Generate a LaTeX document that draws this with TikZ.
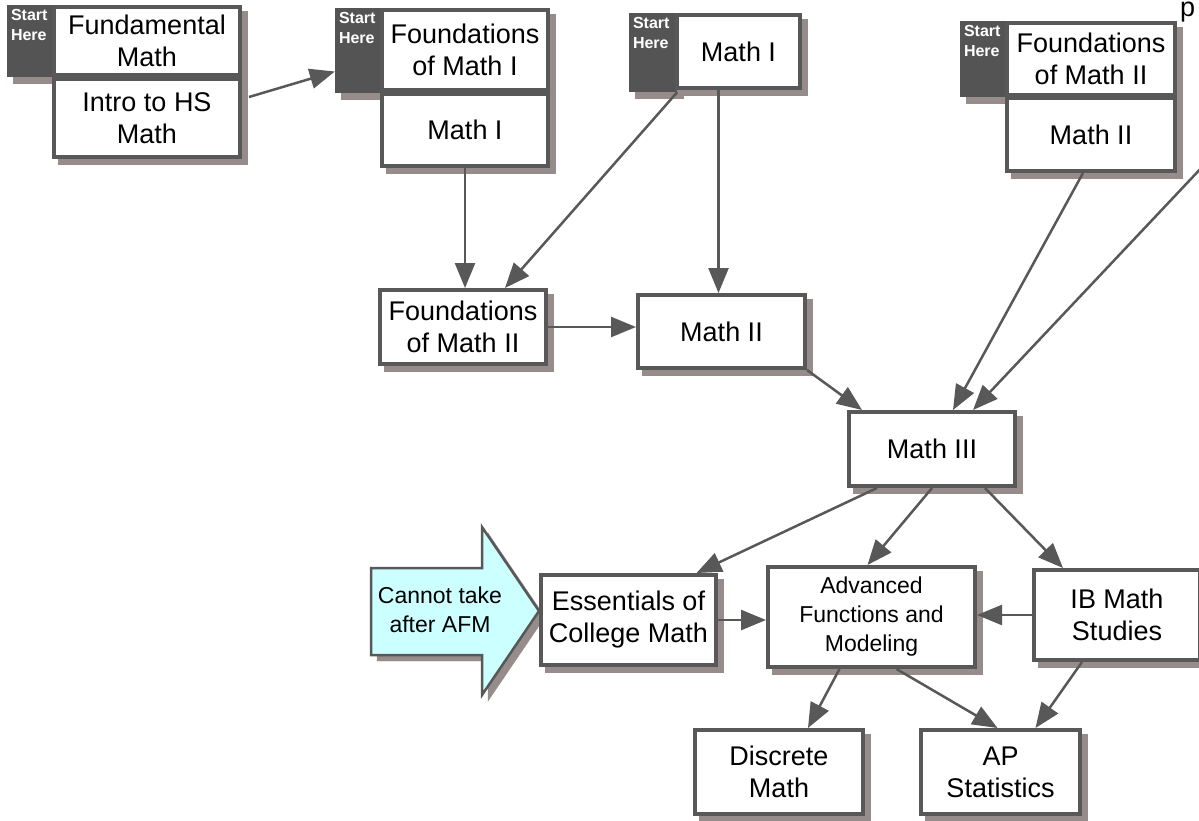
\documentclass[tikz,border=0pt]{standalone}
\usepackage{fontspec}
\setmainfont{Liberation Sans}
\usetikzlibrary{arrows.meta,shadows}

\definecolor{edgegray}{RGB}{88,88,88}
\definecolor{tabgray}{RGB}{84,84,84}
\definecolor{shadowgray}{RGB}{150,140,140}
\definecolor{notecyan}{RGB}{204,255,255}
\newcommand{\coursefont}{\fontsize{27}{32}\selectfont}
\newcommand{\smallcoursefont}{\fontsize{23}{29}\selectfont}
\newcommand{\startfont}{\fontsize{16}{20}\selectfont\bfseries}

\begin{document}
\begin{tikzpicture}[x=1pt,y=-1pt,
  shadowed/.style={drop shadow={shadow xshift=6pt,shadow yshift=-6pt,fill=shadowgray,draw=shadowgray,opacity=1}},
  course/.style={rectangle,draw=edgegray,line width=4pt,fill=white,align=center,inner sep=1pt,font=\coursefont,shadowed},
  starttab/.style={rectangle,fill=tabgray,inner sep=0pt,shadowed},
  startlabel/.style={anchor=north west,text=white,align=left,inner sep=4pt,font=\startfont},
  link/.style={draw=edgegray,line width=2.5pt,-{Triangle[length=25pt,width=20pt]}}]

        \useasboundingbox (0,0) rectangle (1199,820);

        % start here groups
        \node[starttab,minimum width=48pt,minimum height=72pt] (tabA) at (31,41) {};
        \node[startlabel] (hereA) at (tabA.north west) {Start\\Here};
        \node[course,minimum width=186pt,minimum height=68pt] (fundmath) at (147,41) {Fundamental\\Math};
        \node[course,minimum width=186pt,minimum height=78pt] (introhs) at (147,118) {Intro to HS\\Math};

        \node[starttab,minimum width=47pt,minimum height=85pt] (tabB) at (358.5,50.5) {};
        \node[startlabel] (hereB) at (tabB.north west) {Start\\Here};
        \node[course,minimum width=166pt,minimum height=80.5pt] (fmathoneA) at (465,50) {Foundations\\of Math I};
        \node[course,minimum width=166pt,minimum height=72pt] (mathoneA) at (465,130) {Math I};

        \node[starttab,minimum width=48pt,minimum height=79pt] (tabC) at (653,52.5) {};
        \node[startlabel] (hereC) at (tabC.north west) {Start\\Here};
        \node[course,minimum width=123pt,minimum height=73pt] (mathoneB) at (738.5,51.5) {Math I};

        \node[starttab,minimum width=47pt,minimum height=76pt] (tabD) at (983.5,59) {};
        \node[startlabel] (hereD) at (tabD.north west) {Start\\Here};
        \node[course,minimum width=168pt,minimum height=72pt] (fmathtwoA) at (1091,59) {Foundations\\of Math II};
        \node[course,minimum width=168pt,minimum height=73pt] (mathtwoA) at (1091,134.5) {Math II};

        \node[anchor=base west,inner sep=0pt,font=\coursefont] (pcut) at (1180,16) {p};
        \coordinate (offpage) at (1205,164);

        % middle and lower courses
        \node[course,minimum width=166pt,minimum height=74pt] (fmathtwoB) at (463,327) {Foundations\\of Math II};
        \node[course,minimum width=167pt,minimum height=73pt] (mathtwoB) at (721.5,331.5) {Math II};
        \node[course,minimum width=166pt,minimum height=74pt] (maththree) at (932,449) {Math III};

        \draw[draw=edgegray,line width=2.5pt,fill=notecyan,shadowed]
          (371,568) -- (482,568) -- (482,527) -- (539,611) -- (482,695) -- (482,655) -- (371,655) -- cycle;
        \node[align=center,inner sep=0pt,font=\smallcoursefont] (nomore) at (440,610) {Cannot take\\after AFM};

        \node[course,minimum width=175pt,minimum height=90pt] (essentials) at (628.5,620) {Essentials of\\College Math};
        \node[course,minimum width=207pt,minimum height=100pt,font=\smallcoursefont] (afm) at (871.5,617) {Advanced\\Functions and\\Modeling};
        \node[course,minimum width=166pt,minimum height=90pt] (ibstudies) at (1117,615) {IB Math\\Studies};
        \node[course,minimum width=168pt,minimum height=84pt] (discrete) at (779,772) {Discrete\\Math};
        \node[course,minimum width=159pt,minimum height=84pt] (apstats) at (1000.5,772) {AP\\Statistics};

        \draw[link] ([xshift=7pt,yshift=21pt]introhs.east) -- ([yshift=-21pt]tabB.west);
        \draw[link] (mathoneA.south) -- (mathoneA.south |- fmathtwoB.north);
        \draw[link] (tabC.south east) -- ([xshift=42pt]fmathtwoB.north);
        \draw[link] ([xshift=-20pt]mathoneB.south) -- ([xshift=-3pt]mathtwoB.north);
        \draw[link] (fmathtwoB.east) -- (fmathtwoB.east -| mathtwoB.west);
        \draw[link] (mathtwoB.south east) -- ([xshift=-70pt]maththree.north);
        \draw[link] ([xshift=-8pt]mathtwoA.south) -- ([xshift=21pt]maththree.north);
        \draw[link] (offpage) -- ([xshift=41pt]maththree.north);
        \draw[link] ([xshift=-55pt]maththree.south) -- ([xshift=68pt]essentials.north);
        \draw[link] (maththree.south) -- ([xshift=-4pt]afm.north);
        \draw[link] ([xshift=53pt]maththree.south) -- ([xshift=-54pt]ibstudies.north);
        \draw[link] (essentials.east) -- (essentials.east -| afm.west);
        \draw[link] (ibstudies.west) -- (ibstudies.west -| afm.east);
        \draw[link] ([xshift=-32pt]afm.south) -- ([xshift=29pt]discrete.north);
        \draw[link] ([xshift=25pt]afm.south) -- ([xshift=-3pt]apstats.north);
        \draw[link] ([xshift=-35pt]ibstudies.south) -- ([xshift=35pt]apstats.north);

\end{tikzpicture}
\end{document}
